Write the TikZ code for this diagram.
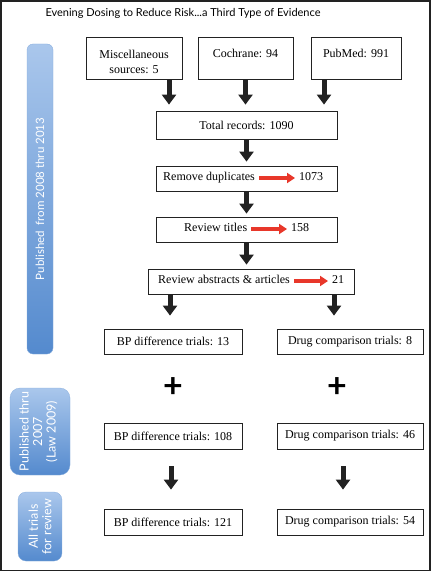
\documentclass[tikz,border=0pt]{standalone}
\usepackage{fontspec}
\setmainfont{Liberation Serif}
\newfontfamily\titlefont{Lato}
\usetikzlibrary{arrows.meta}
\usetikzlibrary{positioning}
\definecolor{mblue}{RGB}{84,138,206}
\definecolor{lblue}{RGB}{170,199,236}
\definecolor{mred}{RGB}{232,55,42}
\definecolor{mgray}{RGB}{34,34,34}
\tikzset{box/.style = {draw = mgray, line width = 0.8pt, inner sep = 0, font = \fontsize{12}{15}\selectfont}}
\tikzset{txt/.style = {inner sep = 0, text height = 1.6ex, text depth = 0.3ex, font = \fontsize{12}{15}\selectfont}}
\tikzset{blk/.style = {mgray, line width = 5pt, -{Triangle[width = 14pt, length = 10pt]}}}
\tikzset{redarr/.style = {mred, line width = 3.5pt, -{Triangle[width = 10pt, length = 8pt]}, shorten <= 4pt, shorten >= 4pt}}
\tikzset{bar/.style = {top color = lblue, bottom color = mblue, draw = mblue!70, line width = 0.3pt}}
\tikzset{bartxt/.style = {rotate = 90, white, align = center, font = \titlefont\fontsize{12.5}{13.5}\selectfont}}

\begin{document}
\begin{tikzpicture}[x = 1pt, y = -1pt]
    \useasboundingbox (0, 0) rectangle (431, 572);
    \draw [mgray, line width = 1.5pt] (1, 1) rectangle (430, 570.5);
    \node [anchor = west, font = \titlefont\fontsize{11}{13}\selectfont] (title) at (42, 13) {Evening Dosing to Reduce Risk...a Third Type of Evidence};
    % side bars
    \node [bar, rounded corners = 6pt, minimum width = 26pt, minimum height = 310pt] (pub1) at (40, 199) {};
    \node [bartxt, font = \titlefont\fontsize{11.5}{13}\selectfont] (pub1t) at (pub1) {Published\ \ from 2008 thru 2013};
    \node [bar, rounded corners = 10pt, minimum width = 60pt, minimum height = 87pt] (pub2) at (40, 431.5) {};
    \node [bartxt] (pub2t) at (38.5, 431.5) {Published thru\\2007\\(Law 2009)};
    \node [bar, rounded corners = 8pt, minimum width = 44pt, minimum height = 69pt] (all) at (40, 526.5) {};
    \node [bartxt] (allt) at (all) {All trials\\for review};
    % sources
    \node [box, minimum width = 96pt, minimum height = 42pt] (misc) at (134, 58) {};
    \node [txt, align = center, text height = , text depth = ] (miscT) at (134, 62) {Miscellaneous\\sources: 5};
    \node [box, minimum width = 95pt, minimum height = 42pt] (coch) at (245.5, 58) {};
    \node [txt] (cochT) at (245.5, 55) {Cochrane: 94};
    \node [box, minimum width = 90pt, minimum height = 42pt] (pubmed) at (356, 58) {};
    \node [txt] (pubmedT) at (356, 55) {PubMed: 991};
    \node [box, minimum width = 181pt, minimum height = 28pt] (total) at (246.5, 125) {Total records: 1090};
    \draw [blk, shorten >= 6pt] ([xshift = 35pt]misc.south) -- ([xshift = 35pt]misc.south |- total.north);
    \draw [blk, shorten >= 6pt] (coch.south) -- (coch.south |- total.north);
    \draw [blk, shorten >= 6pt] ([xshift = -32pt]pubmed.south) -- ([xshift = -32pt]pubmed.south |- total.north);
    % screening
    \node [box, minimum width = 181pt, minimum height = 25pt] (dup) at (246.5, 178.5) {};
    \node [txt, anchor = west] (dupL) at (163, 178) {Remove duplicates};
    \node [txt, anchor = west] (dupN) at (299, 178) {1073};
    \draw [redarr] (dupL.east) -- (dupN.west);
    \node [box, minimum width = 181pt, minimum height = 25pt] (tit) at (246.5, 229.5) {};
    \node [txt, anchor = west] (titL) at (184, 229) {Review titles};
    \node [txt, anchor = west] (titN) at (291, 229) {158};
    \draw [redarr] (titL.east) -- (titN.west);
    \node [box, minimum width = 206pt, minimum height = 25pt] (abs) at (251, 281.5) {};
    \node [txt, anchor = west] (absL) at (158, 281) {Review abstracts \& articles};
    \node [txt, anchor = west] (absN) at (332, 281) {21};
    \draw [redarr] (absL.east) -- (absN.west);
    \draw [blk, shorten >= 4pt] (total) -- (dup);
    \draw [blk, shorten >= 3pt] (dup) -- (tit);
    \draw [blk, shorten >= 4pt] (tit.south) -- (tit.south |- abs.north);
    % trials
    \node [box, minimum width = 138pt, minimum height = 25pt] (bp1) at (173, 341.5) {BP difference trials: 13};
    \node [box, minimum width = 146pt, minimum height = 25pt] (dc1) at (350, 341.5) {Drug comparison trials: 8};
    \draw [blk, shorten >= 13pt] ([xshift = -81pt]abs.south) -- ([xshift = -81pt]abs.south |- bp1.north);
    \draw [blk, shorten >= 13pt] ([xshift = 83pt]abs.south) -- ([xshift = 83pt]abs.south |- dc1.north);
    \node [font = \titlefont\bfseries\fontsize{34}{34}\selectfont, inner sep = 0] (plus1) at (173, 388) {+};
    \node [font = \titlefont\bfseries\fontsize{34}{34}\selectfont, inner sep = 0] (plus2) at (337, 388) {+};
    \node [box, minimum width = 138pt, minimum height = 26pt] (bp2) at (173, 436) {BP difference trials: 108};
    \node [box, minimum width = 146pt, minimum height = 26pt] (dc2) at (350, 436) {Drug comparison trials: 46};
    \node [box, minimum width = 138pt, minimum height = 26pt] (bp3) at (173, 522) {BP difference trials: 121};
    \node [box, minimum width = 146pt, minimum height = 26pt] (dc3) at (350, 522) {Drug comparison trials: 54};
    \draw [blk, shorten <= 17pt, shorten >= 19pt] ([xshift = -2pt]bp2.south) -- ([xshift = -2pt]bp3.north);
    \draw [blk, shorten <= 17pt, shorten >= 19pt] ([xshift = -7pt]dc2.south) -- ([xshift = -7pt]dc3.north);
\end{tikzpicture}
\end{document}
